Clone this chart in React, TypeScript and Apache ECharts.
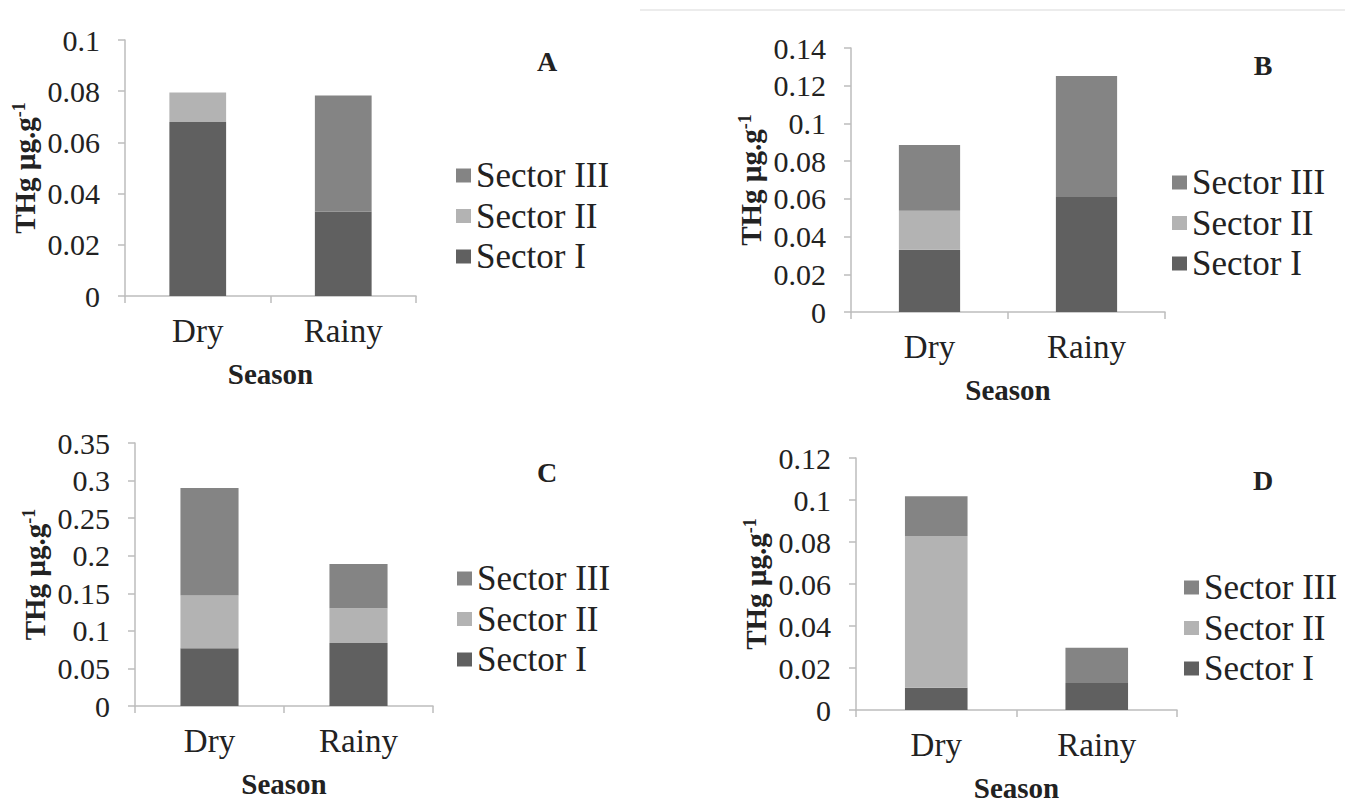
import React, { useEffect, useRef } from "react";
import * as echarts from "echarts";

const seasons = ["Dry", "Rainy"];
const sectorNames = ["Sector I", "Sector II", "Sector III"];
const legendOrder = ["Sector III", "Sector II", "Sector I"];
const sectorColors = ["#606060", "#b3b3b3", "#848484"];

// Panel A
const aSectorI = [0.068, 0.033];
const aSectorII = [0.0115, 0];
const aSectorIII = [0, 0.0453];
// Panel B
const bSectorI = [0.033, 0.061];
const bSectorII = [0.0207, 0];
const bSectorIII = [0.0349, 0.0641];
// Panel C
const cSectorI = [0.077, 0.084];
const cSectorII = [0.07, 0.046];
const cSectorIII = [0.143, 0.059];
// Panel D
const dSectorI = [0.0106, 0.0129];
const dSectorII = [0.0723, 0];
const dSectorIII = [0.0189, 0.0168];

const panelLetters = ["A", "B", "C", "D"];
const yMax = [0.1, 0.14, 0.35, 0.12];
const yStep = [0.02, 0.02, 0.05, 0.02];
const yAxisTitle = "THg µg.g";
const yAxisSup = "-1";
const xAxisTitle = "Season";

const panelData = [
  [aSectorI, aSectorII, aSectorIII],
  [bSectorI, bSectorII, bSectorIII],
  [cSectorI, cSectorII, cSectorIII],
  [dSectorI, dSectorII, dSectorIII],
];

// layout (pixels)
const grids = [
  { left: 125, top: 40, width: 291, height: 256 },
  { left: 851, top: 48, width: 314, height: 264 },
  { left: 135, top: 443, width: 298, height: 263 },
  { left: 856, top: 458, width: 321, height: 254 },
];
const legendPos = [
  { left: 456, top: 158 },
  { left: 1172, top: 165 },
  { left: 457, top: 561 },
  { left: 1184, top: 570 },
];
const letterPos = [
  [547, 61],
  [1263, 65],
  [547, 472],
  [1263, 480],
];

const FONT = "Liberation Serif";
const TEXT = "#222222";
const AXIS = "#bdbdbd";

export default function App() {
  const ref = useRef<HTMLDivElement>(null);
  useEffect(() => {
    if (!ref.current) return;
    const chart = echarts.init(ref.current, undefined, { renderer: "svg" });

    const xAxes: any[] = [];
    const yAxes: any[] = [];
    const series: any[] = [];
    const legends: any[] = [];
    const graphics: any[] = [
      {
        type: "line",
        shape: { x1: 640, y1: 10, x2: 1345, y2: 10 },
        style: { stroke: "#e6e6e6", lineWidth: 1.5 },
      },
    ];

    grids.forEach((g, p) => {
      xAxes.push({
        type: "category",
        gridIndex: p,
        data: seasons,
        axisLine: { lineStyle: { color: AXIS, width: 1.5 } },
        axisTick: { show: true, length: 7, lineStyle: { color: AXIS, width: 1.5 } },
        axisLabel: { fontFamily: FONT, fontSize: 33, color: TEXT, margin: 18 },
        name: xAxisTitle,
        nameLocation: "middle",
        nameGap: 63,
        nameTextStyle: { fontFamily: FONT, fontSize: 29, fontWeight: "bold", color: TEXT },
      });
      yAxes.push({
        type: "value",
        gridIndex: p,
        min: 0,
        max: yMax[p],
        interval: yStep[p],
        splitLine: { show: false },
        axisLine: { show: true, lineStyle: { color: AXIS, width: 1.5 } },
        axisTick: { show: true, length: 7, lineStyle: { color: AXIS, width: 1.5 } },
        axisLabel: {
          fontFamily: FONT,
          fontSize: 30,
          color: TEXT,
          margin: 25,
          formatter: (v: number) => String(+v.toFixed(3)),
        },
        name: `{a|${yAxisTitle}}{b|${yAxisSup}}`,
        nameLocation: "middle",
        nameRotate: 90,
        nameGap: 86,
        nameTextStyle: {
          fontFamily: FONT,
          rich: {
            a: { fontFamily: FONT, fontSize: 29, fontWeight: "bold", color: TEXT },
            b: {
              fontFamily: FONT,
              fontSize: 18,
              fontWeight: "bold",
              color: TEXT,
              verticalAlign: "top",
            },
          },
        },
      });
      panelData[p].forEach((vals, s) => {
        series.push({
          type: "bar",
          name: sectorNames[s],
          xAxisIndex: p,
          yAxisIndex: p,
          stack: "panel" + p,
          barWidth: "39%",
          data: vals,
          itemStyle: { color: sectorColors[s] },
        });
      });
      legends.push({
        show: true,
        orient: "vertical",
        left: legendPos[p].left,
        top: legendPos[p].top,
        data: legendOrder,
        selectedMode: false,
        itemWidth: 15,
        itemHeight: 14,
        itemGap: 5.5,
        padding: 0,
        icon: "rect",
        textStyle: { fontFamily: FONT, fontSize: 35, color: TEXT },
      });
      graphics.push({
        type: "text",
        x: letterPos[p][0],
        y: letterPos[p][1],
        style: {
          text: panelLetters[p],
          fontFamily: FONT,
          fontSize: 28,
          fontWeight: "bold",
          fill: TEXT,
          align: "center",
          verticalAlign: "middle",
        },
      });
    });

    chart.setOption({
      animation: false,
      backgroundColor: "#ffffff",
      textStyle: { fontFamily: FONT },
      grid: grids.map((g) => ({ ...g, containLabel: false })),
      xAxis: xAxes,
      yAxis: yAxes,
      legend: legends,
      series,
      graphic: graphics,
    });
    return () => chart.dispose();
  }, []);
  return (
    <div
      ref={ref}
      style={{ position: "fixed", left: 0, top: 0, width: 1345, height: 803, background: "#fff" }}
    />
  );
}
